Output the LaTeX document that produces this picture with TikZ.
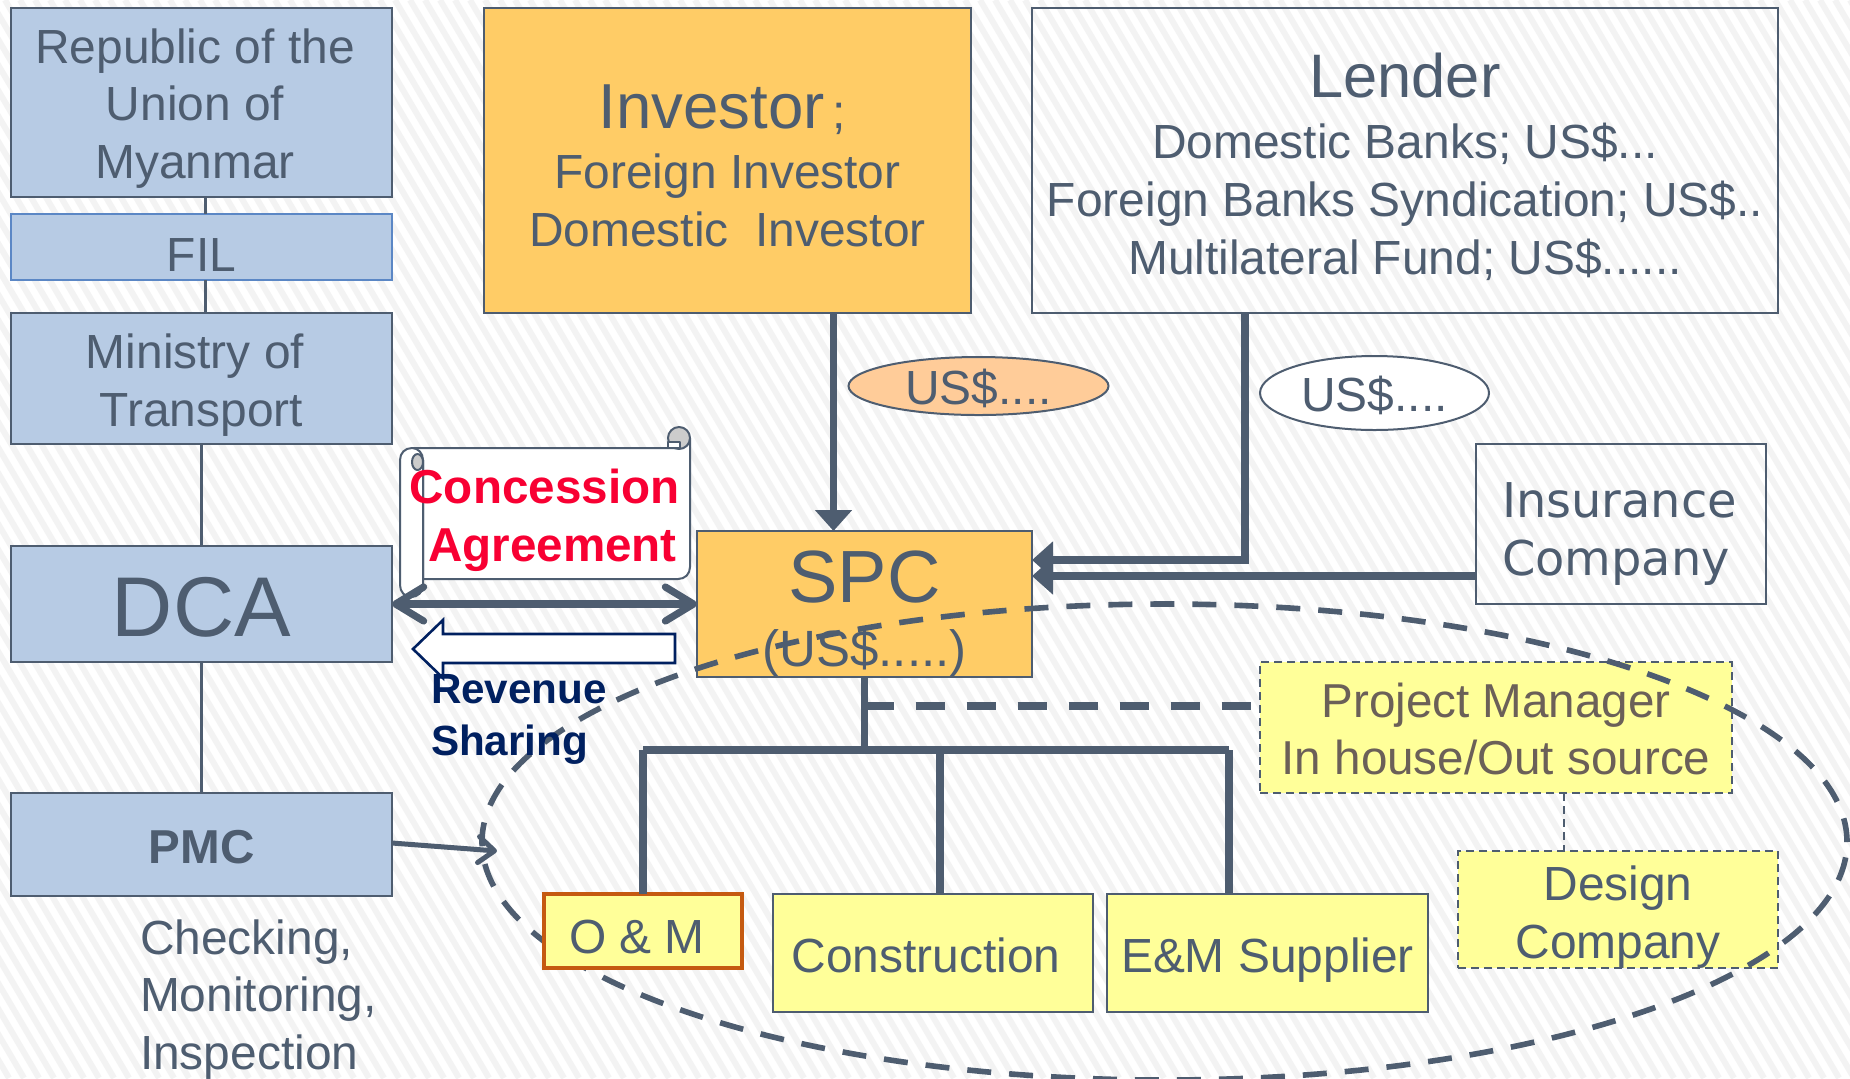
\documentclass[tikz,border=0pt]{standalone}
\usepackage{fontspec}
\setmainfont{Liberation Sans}
\newfontfamily\wideface{DejaVu Sans}
\usetikzlibrary{arrows.meta,shapes.geometric}

\definecolor{slate}{HTML}{4E5D70}
\definecolor{boxblue}{HTML}{B7CBE4}
\definecolor{filblue}{HTML}{5B87C5}
\definecolor{boxorange}{HTML}{FFCC66}
\definecolor{boxyellow}{HTML}{FFFF99}
\definecolor{boxpeach}{HTML}{FFCC99}
\definecolor{omborder}{HTML}{C55A11}
\definecolor{pmtext}{HTML}{6B6058}
\definecolor{concred}{HTML}{F80033}
\definecolor{revnavy}{HTML}{002060}
\definecolor{stripegray}{HTML}{F3F3F3}

\newcommand{\tailgap}[1]{\rule{#1}{0pt}}

\tikzset{
  stripe/.style={draw=stripegray,line width=3pt},
  baseat/.style args={#1 of #2}{text height=#1*0.5pt,text depth=(#2-#1)*0.5pt,minimum height=#2*0.5pt},
  plain/.style={inner sep=0pt,outer sep=0pt,text=slate,align=center,font=\fontsize{23.95}{28.8}\selectfont},
  bluebox/.style={plain,draw=slate,fill=boxblue,line width=1.4pt,minimum width=190.5pt},
  orangebox/.style={plain,draw=slate,fill=boxorange,line width=1.2pt},
  openbox/.style={plain,draw=slate,line width=1pt},
  yellowbox/.style={plain,draw=slate,fill=boxyellow,line width=1pt},
  dashbox/.style={yellowbox,dash pattern=on 4pt off 2.5pt},
  money/.style={plain,ellipse,draw=slate,line width=1pt,text height=18pt,text depth=0pt},
  thinlink/.style={draw=slate,line width=1.5pt},
  trunk/.style={draw=slate,line width=3.6pt},
  trunkdash/.style={trunk,dash pattern=on 14.5pt off 11pt},
  solidtip/.style={-{Triangle[length=10.5pt,width=18pt]}},
  outline/.style={draw=slate,line width=1pt,line join=round},
  scopering/.style={ellipse,draw=slate,line width=2.8pt,dash pattern=on 12pt off 9pt,inner sep=0pt,minimum width=682.5pt,minimum height=238pt}
}

\begin{document}
\begin{tikzpicture}[x=0.5pt,y=-0.5pt]
    \useasboundingbox (0,0) rectangle (1850,1078);

    % Hachures du fond
    \begin{scope}
        \clip (0,0) rectangle (1850,1078);
        \fill[white] (0,0) rectangle (1850,1078);
        \foreach \s in {-640,-625,...,1850} {
            \draw[stripe] (\s,0) -- ({\s+634},1078);
        }
    \end{scope}

    % Colonne de gauche
    \node[bluebox,baseat={170.3 of 189}] (rep) at (201.5,102.5) {Republic of the\tailgap{6.5pt}\\Union of\tailgap{6.5pt}\\Myanmar\tailgap{6.5pt}};
    \node[bluebox,baseat={57 of 66},draw=filblue,line width=1pt] (fil) at (201.5,247) {FIL};
    \node[bluebox,baseat={113 of 131}] (min) at (201.5,378.5) {Ministry of\tailgap{6.5pt}\\Transport};
    \node[bluebox,baseat={90 of 116},line width=1pt,font=\fontsize{42.4}{44}\selectfont] (dca) at (201.5,604) {DCA};
    \node[bluebox,baseat={70 of 103},line width=1pt,font=\fontsize{23.8}{28}\selectfont\bfseries] (pmc) at (201.5,844.5) {PMC};
    \node[plain,anchor=base west,align=left] (chk) at (140,1069.5) {Checking,\\Monitoring,\\Inspection};

    % Investisseurs et bailleurs
    \node[orangebox,baseat={238 of 305},minimum width=243.5pt] (inv) at (727.5,160.5)
        {{\fontsize{31.8}{34}\selectfont Investor}\,;\tailgap{5pt}\\[1.3pt]Foreign Investor\\Domestic\ \ Investor};
    \node[openbox,baseat={266 of 305},minimum width=373pt] (len) at (1405,160.5)
        {{\fontsize{30.7}{34}\selectfont Lender}\\[2pt]Domestic Banks; US\$...\\Foreign Banks Syndication; US\$..\\Multilateral Fund; US\$......};
    \node[orangebox,baseat={135 of 146},minimum width=167.5pt,line width=1pt] (spc) at (864.5,604)
        {{\fontsize{37}{40}\selectfont SPC}\\[3.2pt]{\fontsize{25.5}{28.8}\selectfont (US\$.....)}};
    \node[openbox,baseat={131 of 160},minimum width=145pt,align=left,font=\fontsize{23.95}{29}\wideface] (ins) at (1621,524) {Insurance\tailgap{1.5pt}\\Company};
    \node[money,fill=boxpeach,minimum width=130pt,minimum height=29pt] (usa) at (978.5,386) {US\$....};
    \node[money,fill=white,minimum width=114.5pt,minimum height=37pt] (usb) at (1374.5,393) {US\$....};

    % Entreprises
    \node[dashbox,baseat={112 of 131},minimum width=236pt,text=pmtext,font=\fontsize{23.8}{28.5}\selectfont] (pm) at (1496,727.5) {Project Manager\\In house/Out source};
    \node[dashbox,baseat={107 of 117},minimum width=160pt] (des) at (1618,909.5) {Design\\Company};
    \node[yellowbox,baseat={78 of 118},minimum width=160pt] (con) at (933,953) {Construction\tailgap{7pt}};
    \node[yellowbox,baseat={78 of 118},minimum width=160.5pt] (em) at (1267.5,953) {E\&M Supplier};

    % Liens de la colonne de gauche
    \coordinate (topline) at (205,0);
    \draw[thinlink] (topline |- rep.south) -- (topline |- fil.north);
    \draw[thinlink] (topline |- fil.south) -- (topline |- min.north);
    \draw[thinlink] (min.south) -- (dca.north);
    \draw[thinlink] (dca.south) -- (pmc.north);

    % Parchemin
    \filldraw[outline,fill=white] (412,448) -- (678,448) .. controls (686,448) and (690,444) .. (690,438)
        -- (690,567) .. controls (690,574) and (685,579) .. (678,579) -- (423,579) -- (423,460) -- cycle;
    \filldraw[outline,fill=white] (423,460) .. controls (423,453) and (418,448) .. (412,448)
        .. controls (405,448) and (400,453) .. (400,460) -- (400,585)
        .. controls (400,592) and (405,597) .. (411,597) .. controls (418,597) and (423,592) .. (423,585) -- cycle;
    \filldraw[outline,fill=black!20] (417.5,462) ellipse [x radius=2.75pt,y radius=4pt];
    \filldraw[outline,fill=black!20] (679,438) circle [radius=5.5pt];
    \filldraw[outline,fill=white] (668,448) -- (668,442) -- (680,442) -- (680,448) -- cycle;

    % Fleches principales
    \coordinate (invdrop) at (833.5,0);
    \coordinate (lenelbow) at (1245,560);
    \coordinate (insline) at (1476,576);
    \draw[trunk,solidtip] (invdrop |- inv.south) -- (invdrop |- spc.north);
    \draw[trunk,solidtip] (lenelbow |- len.south) -- (lenelbow) -- (lenelbow -| spc.east);
    \draw[trunk,solidtip] (insline) -- (insline -| spc.east);
    \draw[trunk,{Straight Barb[round,length=14pt,width=17pt]}-{Straight Barb[round,length=14pt,width=17pt]}] (dca.east) -- (spc.west);

    % Partage des revenus
    \filldraw[draw=revnavy,fill=white,line width=1.3pt] (413,649) -- (443,620) -- (443,634) -- (675,634)
        -- (675,663) -- (443,663) -- (443,678) -- cycle;

    % Arbre des contrats
    \coordinate (bus) at (864.5,750);
    \coordinate (omdrop) at (643,750);
    \coordinate (condrop) at (940,750);
    \coordinate (emdrop) at (1229,750);
    \coordinate (pmline) at (864.5,706);
    \draw[trunk] (spc.south) -- (bus);
    \draw[trunk] (omdrop) -- (emdrop);
    \draw[trunkdash] (pmline) -- (pmline -| pm.west);
    \coordinate (desline) at (1564,0);
    \draw[draw=slate,line width=1pt,dash pattern=on 4pt off 2.5pt] (desline |- pm.south) -- (desline |- des.north);

    % Ellipse du groupement
    \node[scopering] (group) at (1164.5,842) {};

    \node[yellowbox,baseat={59 of 74},minimum width=99pt,draw=omborder,line width=1.6pt] (om) at (643,931) {O \& M\tailgap{6pt}};
    \foreach \p/\q in {omdrop/om,condrop/con,emdrop/em} {
        \draw[trunk] (\p) -- (\p |- \q.north);
    }

    % PMC vers le groupement
    \coordinate (pmcout) at (392,843);
    \coordinate (pmcend) at (497,851);
    \draw[draw=slate,line width=2.5pt,-{Straight Barb[round,length=8pt,width=13pt]}] (pmcout) -- (pmcend);

    % Textes du parchemin et du partage
    \node[plain,anchor=base,text=concred,font=\fontsize{23.8}{28.8}\selectfont\bfseries] (conc) at (544.5,561) {Concession\\\hspace*{8pt}Agreement};
    \node[plain,anchor=base west,align=left,text=revnavy,font=\fontsize{21.1}{26}\selectfont\bfseries] (rev) at (431,755) {Revenue\\Sharing};
\end{tikzpicture}
\end{document}
